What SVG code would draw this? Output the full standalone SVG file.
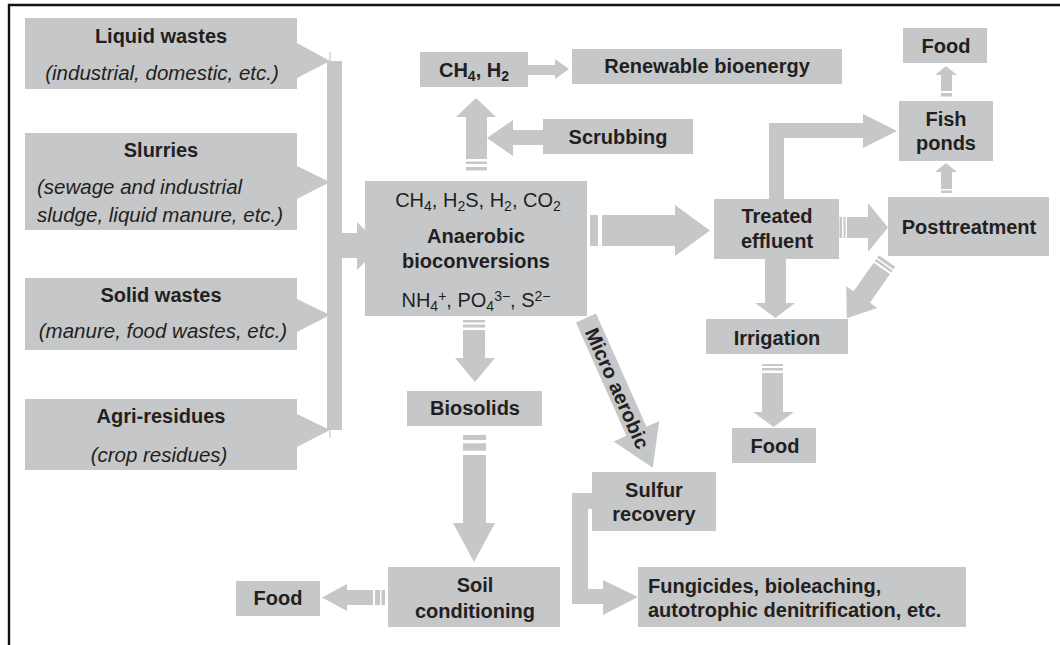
<svg xmlns="http://www.w3.org/2000/svg" width="1060" height="645" viewBox="0 0 1060 645">
<style>
.b{fill:#c6c7c9}
.c{fill:#c6c7c9}
text{font-family:"Liberation Sans",Arial,sans-serif;fill:#231f20}
.t{font-size:20px;font-weight:bold;text-anchor:middle}
.i{font-size:20.5px;font-style:italic;text-anchor:middle}
.r{font-size:20px;text-anchor:middle}
.s{font-size:14px}
</style>
<rect width="1060" height="645" fill="#fff"/>
<path d="M9 645V5H1060" fill="none" stroke="#111" stroke-width="2.4"/>

<g id="connectors" class="c">
  <rect x="327" y="61" width="15" height="369"/>
  <path d="M330 52V61M330 430V438" stroke="#c6c7c9" stroke-width="1.2"/>
  <polygon points="297,43 330,61 297,78"/>
  <polygon points="297,166 330,182 297,199"/>
  <polygon points="297,299 330,315 297,332"/>
  <polygon points="297,414 330,430 297,447"/>
  <polygon points="342,233 357,233 357,222 381,246 357,270 357,258 342,258"/>
  <polygon points="466,159 466,117 456,117 476,98 496,117 487,117 487,159"/>
  <rect x="466" y="161.5" width="21" height="2.5"/>
  <rect x="466" y="167" width="21" height="3.5"/>
  <polygon points="543,130 513,130 513,120 487,138 513,156 513,145 543,145"/>
  <polygon points="528,65 555,65 555,59 569,69 555,79 555,75 528,75"/>
  <rect x="590" y="215" width="8" height="31"/>
  <polygon points="602,215 675,215 675,205 710,230.5 675,256 675,246 602,246"/>
  <rect x="463" y="320" width="22" height="2.5"/>
  <rect x="463" y="324.5" width="22" height="3"/>
  <polygon points="463,330 463,358 455,358 475,382 495,358 485,358 485,330"/>
  <rect x="463" y="435" width="23" height="5"/>
  <rect x="463" y="443.3" width="23" height="7.4"/>
  <polygon points="463,455 463,523 453,523 474,562 495,523 486,523 486,455"/>
  <rect x="375" y="590" width="5" height="15"/>
  <rect x="381.5" y="590" width="3.5" height="15"/>
  <polygon points="373,590 347,590 347,584 322,597.5 347,611 347,605 373,605"/>
  <rect x="839.5" y="217" width="2.5" height="21"/>
  <rect x="843.5" y="217" width="2" height="21"/>
  <polygon points="847,217 868,217 868,203 888,227.5 868,252 868,238 847,238"/>
  <polygon points="765,259 765,303 755,303 775.5,318 795,303 786,303 786,259"/>
  <rect x="762" y="364" width="21" height="2"/>
  <rect x="762" y="368" width="21" height="2.5"/>
  <polygon points="762,373 762,412 753,412 773.5,427 794,412 783,412 783,373"/>
  <g transform="translate(887,261) rotate(125)">
    <rect x="0" y="-10" width="3" height="20"/>
    <rect x="4.5" y="-10" width="2.5" height="20"/>
    <polygon points="9,-10 44,-10 44,-19 70,0 44,19 44,10 9,10"/>
  </g>
  <polygon points="941,189 941,172 935,172 946,163 957,172 952,172 952,189"/>
  <rect x="941" y="190.5" width="11" height="2.5"/>
  <polygon points="941,91 941,75 935,75 946,66 957,75 952,75 952,91"/>
  <rect x="941" y="93" width="11" height="3.5"/>
  <polygon points="769,199 769,123 863,123 863,114 897,131 863,148 863,138 784,138 784,199"/>
  <polygon points="592,493 572,493 572,604 603,604 603,615 638,597 603,580 603,589 588,589 588,509 592,509"/>
  <g transform="translate(586,318) rotate(66)">
    <polygon points="0,-11 124,-11 124,-25 164,0 124,25 124,11 0,11"/>
    <text x="77" y="7" class="t">Micro aerobic</text>
  </g>
</g>

<g id="liquid-wastes"><rect class="b" x="25" y="18" width="272" height="71"/>
  <text class="t" x="161" y="43">Liquid wastes</text>
  <text class="i" x="162" y="80">(industrial, domestic, etc.)</text></g>
<g id="slurries"><rect class="b" x="25" y="133" width="272" height="97"/>
  <text class="t" x="161" y="157">Slurries</text>
  <text class="i" x="37" y="194" style="text-anchor:start">(sewage and industrial</text>
  <text class="i" x="37" y="222" style="text-anchor:start">sludge, liquid manure, etc.)</text></g>
<g id="solid-wastes"><rect class="b" x="25" y="278" width="272" height="72"/>
  <text class="t" x="161" y="302">Solid wastes</text>
  <text class="i" x="163" y="338">(manure, food wastes, etc.)</text></g>
<g id="agri-residues"><rect class="b" x="25" y="399" width="272" height="71"/>
  <text class="t" x="161" y="423">Agri-residues</text>
  <text class="i" x="159" y="462">(crop residues)</text></g>

<g id="anaerobic"><rect class="b" x="365" y="181" width="222" height="135"/>
  <text class="r" x="478" y="207">CH<tspan class="s" dy="4">4</tspan><tspan dy="-4">, H</tspan><tspan class="s" dy="4">2</tspan><tspan dy="-4">S, H</tspan><tspan class="s" dy="4">2</tspan><tspan dy="-4">, CO</tspan><tspan class="s" dy="4">2</tspan></text>
  <text class="t" x="476" y="243">Anaerobic</text>
  <text class="t" x="476" y="268">bioconversions</text>
  <text class="r" x="476" y="307">NH<tspan class="s" dy="4">4</tspan><tspan class="s" dy="-10">+</tspan><tspan dy="6">, PO</tspan><tspan class="s" dy="4">4</tspan><tspan class="s" dy="-10">3−</tspan><tspan dy="6">, S</tspan><tspan class="s" dy="-6">2−</tspan></text></g>

<g id="ch4-h2"><rect class="b" x="420" y="52" width="108" height="35"/>
  <text class="t" x="474" y="77">CH<tspan class="s" dy="4">4</tspan><tspan dy="-4">, H</tspan><tspan class="s" dy="4">2</tspan></text></g>
<g id="renewable"><rect class="b" x="572" y="49" width="270" height="35"/>
  <text class="t" x="707" y="73">Renewable bioenergy</text></g>
<g id="scrubbing"><rect class="b" x="543" y="119" width="150" height="35"/>
  <text class="t" x="618" y="144">Scrubbing</text></g>

<g id="treated"><rect class="b" x="714" y="199" width="125" height="60"/>
  <text class="t" x="777" y="223">Treated</text>
  <text class="t" x="777" y="248">effluent</text></g>
<g id="posttreatment"><rect class="b" x="888" y="197" width="161" height="59"/>
  <text class="t" x="969" y="234">Posttreatment</text></g>
<g id="fish-ponds"><rect class="b" x="899" y="101" width="94" height="60"/>
  <text class="t" x="946" y="126">Fish</text>
  <text class="t" x="946" y="150">ponds</text></g>
<g id="food-top"><rect class="b" x="903" y="28" width="84" height="35"/>
  <text class="t" x="946" y="53">Food</text></g>
<g id="irrigation"><rect class="b" x="706" y="319" width="142" height="35"/>
  <text class="t" x="777" y="345">Irrigation</text></g>
<g id="food-irrigation"><rect class="b" x="732" y="428" width="84" height="35"/>
  <text class="t" x="775" y="453">Food</text></g>

<g id="biosolids"><rect class="b" x="407" y="391" width="135" height="35"/>
  <text class="t" x="475" y="415">Biosolids</text></g>
<g id="soil"><rect class="b" x="388" y="567" width="172" height="60"/>
  <text class="t" x="475" y="592">Soil</text>
  <text class="t" x="475" y="618">conditioning</text></g>
<g id="food-soil"><rect class="b" x="236" y="581" width="84" height="35"/>
  <text class="t" x="278" y="605">Food</text></g>
<g id="sulfur"><rect class="b" x="592" y="472" width="124" height="59"/>
  <text class="t" x="654" y="497">Sulfur</text>
  <text class="t" x="654" y="521">recovery</text></g>
<g id="fungicides"><rect class="b" x="638" y="567" width="328" height="60"/>
  <text class="t" x="648" y="593" style="text-anchor:start">Fungicides, bioleaching,</text>
  <text class="t" x="648" y="617" style="text-anchor:start">autotrophic denitrification, etc.</text></g>
</svg>
